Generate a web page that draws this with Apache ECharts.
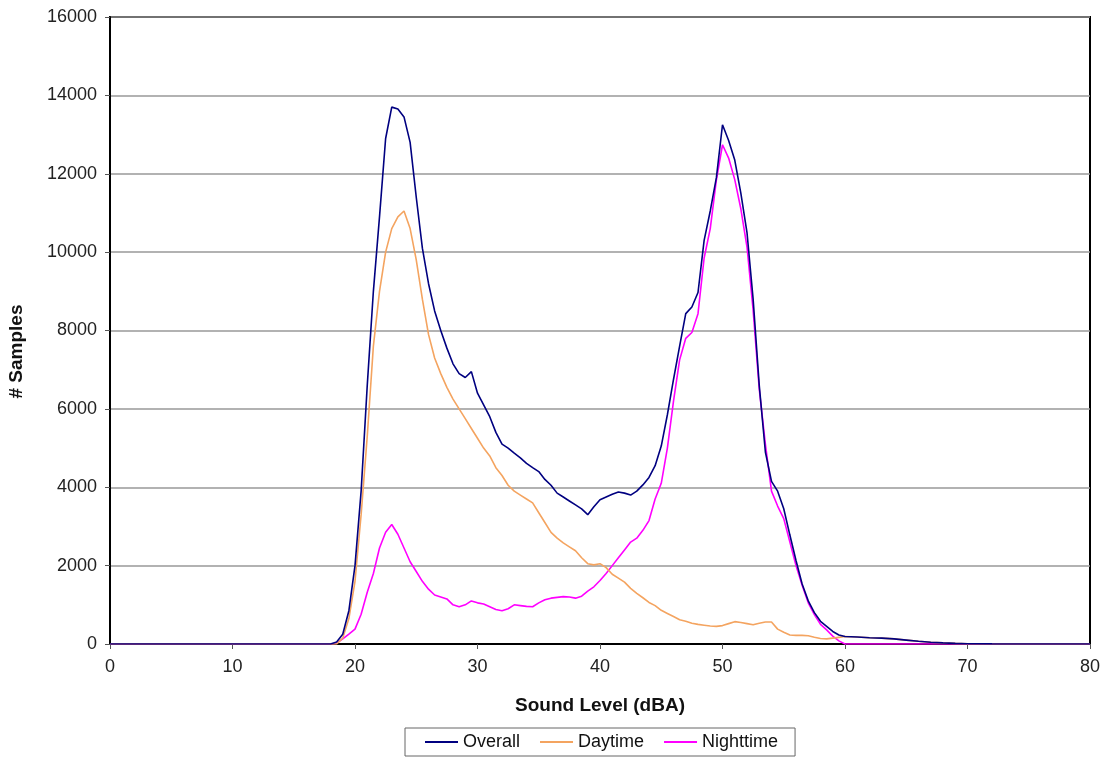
<!DOCTYPE html>
<html>
<head>
<meta charset="utf-8">
<script src="https://cdn.jsdelivr.net/npm/echarts@6/dist/echarts.min.js"></script>
<style>
html,body{margin:0;padding:0;background:#fff;}
#chart{width:1105px;height:757px;}
</style>
</head>
<body>
<div id="chart"></div>
<script>
// Sound level bins (dBA)
const levels = [
  0, 17.5, 18, 18.5, 19, 19.5, 20, 20.5, 21, 21.5, 22, 22.5, 23, 23.5, 24, 24.5, 25, 25.5, 26, 26.5,
  27, 27.5, 28, 28.5, 29, 29.5, 30, 30.5, 31, 31.5, 32, 32.5, 33, 33.5, 34, 34.5, 35, 35.5, 36, 36.5,
  37, 37.5, 38, 38.5, 39, 39.5, 40, 40.5, 41, 41.5, 42, 42.5, 43, 43.5, 44, 44.5, 45, 45.5, 46, 46.5,
  47, 47.5, 48, 48.5, 49, 49.5, 50, 50.5, 51, 51.5, 52, 52.5, 53, 53.5, 54, 54.5, 55, 55.5, 56, 56.5,
  57, 57.5, 58, 58.5, 59, 59.5, 60, 61, 62, 63, 64, 65, 66, 67, 68, 69, 70, 72, 75, 80
];
const overall = [
  0, 0, 0, 50, 250, 850, 2000, 3900, 6600, 9000, 10900, 12900, 13700, 13650, 13450, 12800, 11400, 10100, 9200, 8500,
  8000, 7550, 7150, 6900, 6800, 6950, 6400, 6100, 5800, 5400, 5100, 5000, 4870, 4750, 4610, 4500, 4400, 4200, 4050, 3850,
  3750, 3650, 3550, 3450, 3300, 3500, 3680, 3750, 3820, 3880, 3850, 3800, 3900, 4060, 4250, 4550, 5050, 5850, 6750, 7600,
  8430, 8600, 8970, 10300, 11050, 11900, 13250, 12850, 12350, 11500, 10500, 8800, 6600, 4900, 4150, 3900, 3450, 2780, 2130, 1530,
  1100, 800, 580, 450, 320, 230, 190, 180, 160, 150, 130, 100, 70, 45, 28, 15, 8, 3, 0, 0
];
const daytime = [
  0, 0, 0, 0, 150, 650, 1600, 3300, 5300, 7600, 9000, 10000, 10600, 10900, 11050, 10600, 9800, 8800, 7900, 7300,
  6900, 6550, 6250, 6000, 5750, 5500, 5250, 5000, 4800, 4500, 4300, 4050, 3900, 3800, 3700, 3600, 3350, 3100, 2850, 2700,
  2580, 2480, 2380, 2200, 2050, 2020, 2050, 1950, 1780, 1680, 1580, 1420, 1290, 1180, 1060, 980, 860, 780, 700, 620,
  580, 530, 500, 480, 460, 450, 470, 520, 570, 550, 520, 490, 530, 560, 560, 380, 300, 230, 220, 220,
  210, 170, 140, 130, 150, 170, 190, 180, 160, 150, 130, 100, 70, 45, 28, 15, 8, 3, 0, 0
];
const nighttime = [
  0, 0, 0, 20, 130, 250, 380, 760, 1320, 1800, 2450, 2850, 3050, 2800, 2450, 2100, 1850, 1600, 1400, 1250,
  1200, 1150, 1000, 950, 1000, 1100, 1050, 1020, 950, 880, 850, 900, 1000, 980, 960, 950, 1050, 1130, 1170, 1190,
  1210, 1200, 1170, 1220, 1350, 1460, 1620, 1800, 2000, 2200, 2400, 2600, 2700, 2900, 3150, 3700, 4100, 5000, 6200, 7250,
  7800, 7950, 8430, 9850, 10600, 11840, 12740, 12400, 11850, 11100, 10130, 8520, 6500, 5100, 3900, 3520, 3200, 2600, 2000, 1500,
  1050, 750, 500, 360, 200, 80, 0, 0, 0, 0, 0, 0, 0, 0, 0, 0, 0, 0, 0, 0
];
const seriesNames = ['Overall', 'Daytime', 'Nighttime'];
const seriesColors = ['#000080', '#F4A460', '#FF00FF'];

const pairs = arr => levels.map((x, i) => [x, arr[i]]);
const valueSets = [overall, daytime, nighttime];

const chart = echarts.init(document.getElementById('chart'), null, {renderer: 'canvas'});
const font = '"Liberation Sans", Arial, sans-serif';
chart.setOption({
  animation: false,
  backgroundColor: '#fff',
  textStyle: {fontFamily: font},
  grid: {left: 110, right: 15, top: 17, bottom: 113, show: true, borderColor: '#000', borderWidth: 2,
         containLabel: false, outerBoundsMode: 'none'},
  xAxis: {
    type: 'value', min: 0, max: 80, interval: 10,
    name: 'Sound Level (dBA)', nameLocation: 'middle', nameGap: 52,
    nameTextStyle: {fontSize: 19, fontWeight: 'bold', color: '#111', fontFamily: font},
    axisLine: {lineStyle: {color: '#000', width: 2}},
    axisTick: {show: true, length: 5, lineStyle: {color: '#555'}},
    axisLabel: {fontSize: 18, color: '#222', margin: 14, fontFamily: font},
    splitLine: {show: false}
  },
  yAxis: {
    type: 'value', min: 0, max: 16000, interval: 2000,
    name: '# Samples', nameLocation: 'middle', nameGap: 84, nameRotate: 90,
    nameTextStyle: {fontSize: 19, fontWeight: 'bold', color: '#111', fontFamily: font, padding: [0, 42, 0, 0]},
    axisLine: {show: true, lineStyle: {color: '#000', width: 2}},
    axisTick: {show: true, length: 5, lineStyle: {color: '#555'}},
    axisLabel: {fontSize: 18, color: '#222', margin: 13, fontFamily: font, formatter: v => String(v)},
    splitLine: {show: true, lineStyle: {color: '#999', width: 1.5}}
  },
  legend: {
    bottom: 1, left: 405,
    data: seriesNames.map(n => ({name: n, icon: 'rect'})),
    itemWidth: 33, itemHeight: 2, itemGap: 20, itemSpacing: 2,
    borderColor: '#666', borderWidth: 1, padding: [5, 17, 5, 20],
    textStyle: {fontSize: 18, color: '#111', fontFamily: font}
  },
  series: seriesNames.map((n, k) => ({
    name: n, type: 'line', data: pairs(valueSets[k]),
    showSymbol: false, symbol: 'none',
    lineStyle: {color: seriesColors[k], width: 1.6},
    itemStyle: {color: seriesColors[k]},
    z: 3 - k
  }))
});
</script>
</body>
</html>
